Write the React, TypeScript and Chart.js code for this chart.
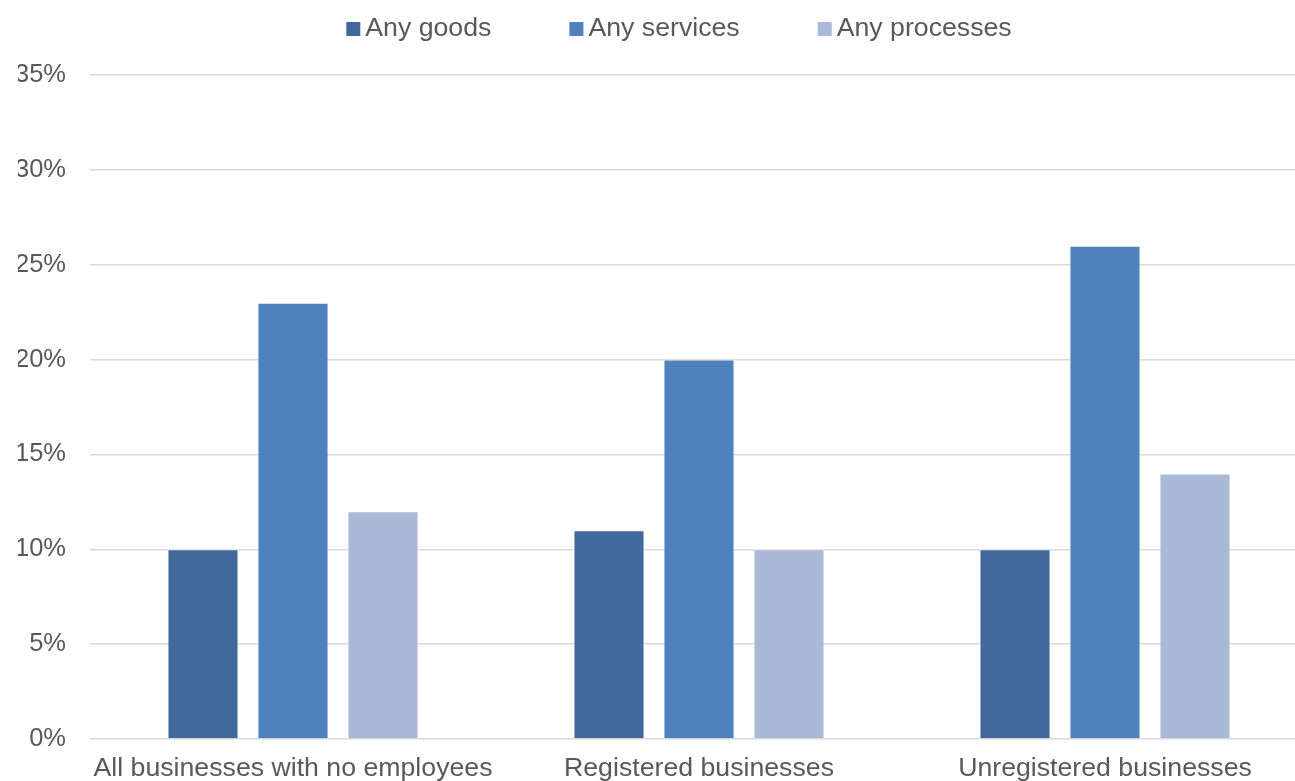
import React, { useEffect, useRef } from 'react';
import { Chart, registerables } from 'chart.js';

Chart.register(...registerables);

const categories = ['All businesses with no employees', 'Registered businesses', 'Unregistered businesses'];
const seriesNames = ['Any goods', 'Any services', 'Any processes'];
const goods = [10, 11, 10];
const services = [23, 20, 26];
const processes = [12, 10, 14];
const seriesColors = ['#41699B', '#4F81BD', '#AAB9D7'];
const yMin = 0;
const yMax = 35;
const yStep = 5;

const FONT = '"Liberation Sans", Arial, Helvetica, sans-serif';
const TEXT = '#595959';
const FS = 26.7;

const topLegend = {
  id: 'topLegend',
  afterDraw(chart: any) {
    const ctx = chart.ctx;
    ctx.save();
    ctx.font = `${FS}px ${FONT}`;
    const box = 14;
    const textGap = 5;
    const gap = 78;
    const items = chart.data.datasets.map((ds: any) => ({
      label: ds.label,
      color: ds.backgroundColor,
      w: box + textGap + ctx.measureText(ds.label).width,
    }));
    const total = items.reduce((s: number, it: any) => s + it.w, 0) + gap * (items.length - 1);
    let x = chart.width / 2 - total / 2 + 1;
    const y = 29;
    ctx.textBaseline = 'middle';
    ctx.textAlign = 'left';
    for (const it of items) {
      ctx.fillStyle = it.color;
      ctx.fillRect(x, y - box / 2, box, box);
      ctx.fillStyle = TEXT;
      ctx.fillText(it.label, x + box + textGap, y);
      x += it.w + gap;
    }
    ctx.restore();
  },
};

export default function App() {
  const ref = useRef<HTMLCanvasElement | null>(null);

  useEffect(() => {
    if (!ref.current) return;
    const values = [goods, services, processes];
    const chart = new Chart(ref.current, {
      type: 'bar',
      data: {
        labels: categories,
        datasets: seriesNames.map((name, i) => ({
          label: name,
          data: values[i],
          backgroundColor: seriesColors[i],
          borderColor: 'rgba(255,255,255,0.6)',
          borderWidth: 1,
          categoryPercentage: 0.665,
          barPercentage: 0.79,
        })),
      },
      options: {
        animation: false,
        responsive: true,
        maintainAspectRatio: false,
        layout: { padding: { left: 18, right: 48, top: 75, bottom: 0 } },
        plugins: {
          legend: { display: false },
          tooltip: { enabled: false },
        },
        scales: {
          x: {
            grid: { display: false, drawTicks: false },
            border: { display: false },
            ticks: {
              color: TEXT,
              font: { family: FONT, size: FS },
              padding: 14,
              maxRotation: 0,
              autoSkip: false,
            },
            afterFit: (scale: any) => {
              scale.height = 61;
            },
          },
          y: {
            min: yMin,
            max: yMax,
            grid: { color: '#d9d9d9', lineWidth: 1.5, drawTicks: false },
            border: { display: false },
            ticks: {
              stepSize: yStep,
              color: TEXT,
              font: { family: FONT, size: 25.5 },
              padding: 24,
              callback: (v: any) => `${v}%`,
            },
            afterFit: (scale: any) => {
              scale.width = 72;
            },
          },
        },
      },
      plugins: [topLegend],
    });
    return () => chart.destroy();
  }, []);

  return (
    <div style={{ position: 'fixed', left: 0, top: 0, width: 1295, height: 781, overflow: 'hidden', background: '#fff' }}>
      <div style={{ position: 'absolute', left: 0, top: 0, width: 1356, height: 800 }}>
        <canvas ref={ref} />
      </div>
    </div>
  );
}
